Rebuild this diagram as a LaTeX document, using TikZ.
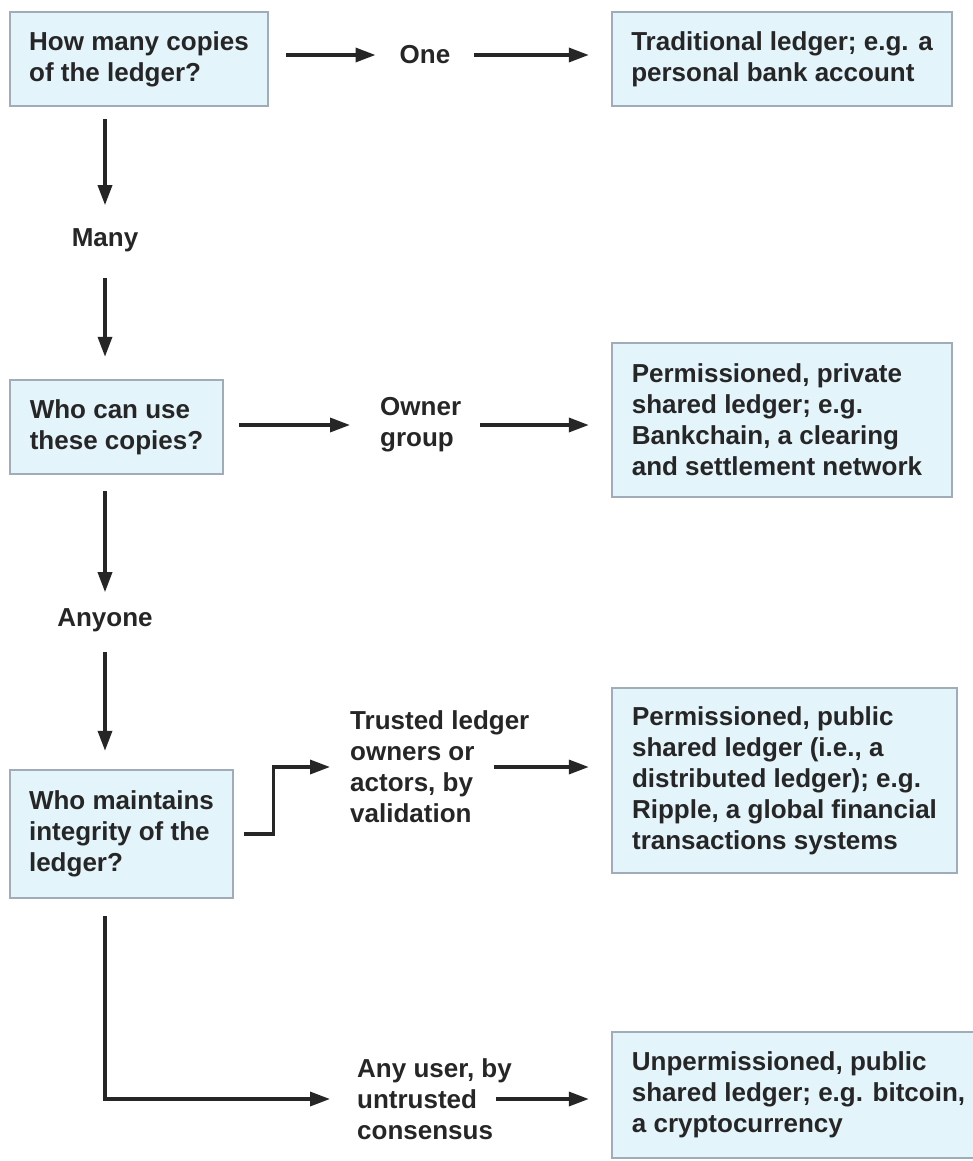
\documentclass[tikz,border=0pt]{standalone}
\usepackage{fontspec}
\setmainfont{Liberation Sans}
\usetikzlibrary{arrows.meta}
\definecolor{boxfill}{HTML}{E3F4FB}
\definecolor{boxline}{HTML}{A0ADB8}
\definecolor{ink}{HTML}{262626}
\begin{document}
\begin{tikzpicture}[x=1pt,y=-1pt,
  every node/.style={font=\fontsize{26}{31}\selectfont\bfseries, text=ink},
  qbox/.style={draw=boxline, line width=2.4pt, fill=boxfill, align=left, inner sep=0pt},
  lbl/.style={align=left, inner sep=0pt},
  flow/.style={draw=ink, line width=3.4pt, -{Triangle[length=20pt,width=14pt]}},
]
\useasboundingbox[fill=white] (0,0) rectangle (973,1161);

% question boxes (left column)
\node[qbox, minimum width=258pt, minimum height=94pt]  (q1) at (139,59)    {How many copies\\of the ledger?};
\node[qbox, minimum width=213pt, minimum height=94pt]  (q3) at (116.5,427) {Who can use\\these copies?};
\node[qbox, minimum width=223pt, minimum height=128pt] (q5) at (121.5,834) {Who maintains\\integrity of the\\ledger?};

% outcome boxes (right column)
\node[qbox, minimum width=340pt, minimum height=94pt]  (r1) at (782,59)    {Traditional ledger; e.g. a\\personal bank account};
\node[qbox, minimum width=340pt, minimum height=154pt] (r2) at (782,420)   {Permissioned, private\\shared ledger; e.g.\\Bankchain, a clearing\\and settlement network\hspace*{10pt}};
\node[qbox, minimum width=345pt, minimum height=185pt] (r3) at (784.5,780.5) {Permissioned, public\\shared ledger (i.e., a\\distributed ledger); e.g.\\Ripple, a global financial\\transactions systems};
\node[qbox, minimum width=373pt, minimum height=126pt] (r4) at (798.5,1095) {Unpermissioned, public\\shared ledger; e.g. bitcoin,\\a cryptocurrency};

% answer labels
\node[lbl] (one)    at (425,55)  {One};
\node[lbl] (many)   at (105,240) {Many};
\node[lbl, anchor=west] (owner) at (380,425) {Owner\\group};
\node[lbl] (anyone) at (105,620) {Anyone};
\node[lbl, anchor=west] (trust) at (350,767) {Trusted ledger\\owners or\\actors, by\\validation};
\node[lbl, anchor=west] (any)   at (357,1099) {Any user, by\\untrusted\\consensus};

% first question
\draw[flow, shorten <=17pt, shorten >=24pt] (q1.east |- one.west) -- (one.west);
\draw[flow, shorten <=24pt, shorten >=22pt] (one.east) -- (r1.west |- one.east);
\draw[flow, shorten <=12pt, shorten >=23pt] (q1.south -| many.north) -- (many.north);
\draw[flow, shorten <=26pt, shorten >=22pt] (many.south) -- (many.south |- q3.north);

% second question
\draw[flow, shorten <=15pt, shorten >=30pt] (q3.east |- owner.west) -- (owner.west);
\draw[flow, shorten <=19pt, shorten >=22pt] (owner.east) -- (r2.west |- owner.east);
\draw[flow, shorten <=16pt, shorten >=16pt] (q3.south -| anyone.north) -- (anyone.north);
\draw[flow, shorten <=20pt, shorten >=18pt] (anyone.south) -- (anyone.south |- q5.north);

% third question
\draw[flow, shorten <=10pt, shorten >=20pt] (q5.east) -- ++(39,0) |- (trust.west);
\draw[flow, shorten >=22pt] ([xshift=-36pt]trust.east) -- (r3.west |- trust.east);
\draw[flow, shorten <=17pt, shorten >=27pt] (q5.south -| anyone.south) |- (any.west);
\draw[flow, shorten >=22pt] ([xshift=-16pt]any.east) -- (r4.west |- any.east);
\end{tikzpicture}
\end{document}
